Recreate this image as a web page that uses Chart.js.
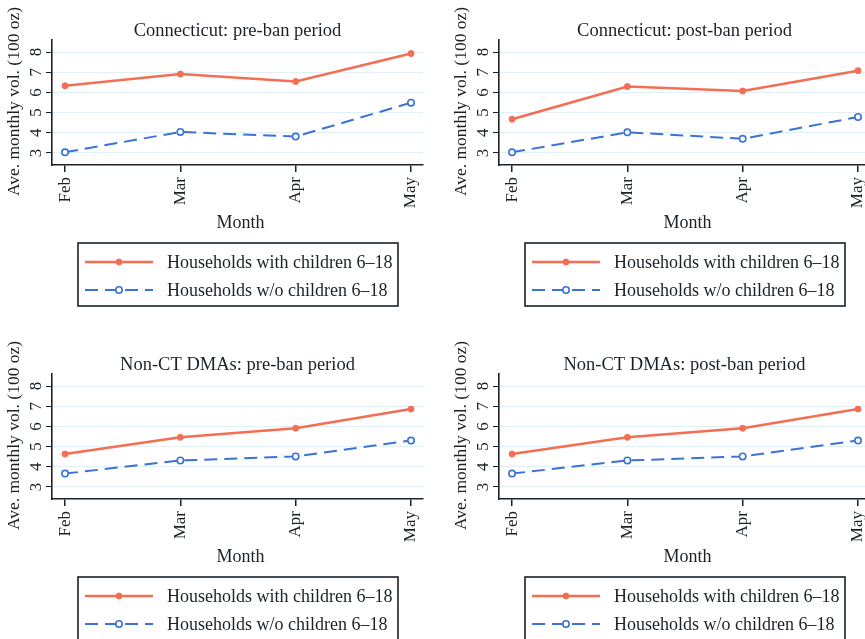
<!DOCTYPE html>
<html>
<head>
<meta charset="utf-8">
<script src="https://cdn.jsdelivr.net/npm/chart.js@4.4.0/dist/chart.umd.min.js"></script>
<style>
  html, body { margin: 0; padding: 0; background: #fff; }
  body { width: 865px; height: 639px; overflow: hidden; position: relative; }
  .panel { position: absolute; width: 447px; height: 334px; }
</style>
</head>
<body>
<div class="panel" style="left:0;top:0"><canvas id="c0" width="447" height="334"></canvas></div>
<div class="panel" style="left:447px;top:0"><canvas id="c1" width="447" height="334"></canvas></div>
<div class="panel" style="left:0;top:334px"><canvas id="c2" width="447" height="334"></canvas></div>
<div class="panel" style="left:447px;top:334px"><canvas id="c3" width="447" height="334"></canvas></div>
<script>
const months = ['Feb', 'Mar', 'Apr', 'May'];
const yTicks = [3, 4, 5, 6, 7, 8];
const seriesNames = ['Households with children 6–18', 'Households w/o children 6–18'];
const panelTitles = [
    'Connecticut: pre-ban period',
    'Connecticut: post-ban period',
    'Non-CT DMAs: pre-ban period',
    'Non-CT DMAs: post-ban period'
];

// average monthly volume, 100 oz
const ctPreWith = [6.33, 6.91, 6.54, 7.93];
const ctPreWithout = [3.03, 4.04, 3.81, 5.49];
const ctPostWith = [4.67, 6.29, 6.07, 7.08];
const ctPostWithout = [3.03, 4.02, 3.70, 4.78];
const nonCtPreWith = [4.63, 5.46, 5.91, 6.86];
const nonCtPreWithout = [3.66, 4.31, 4.51, 5.30];
const nonCtPostWith = [4.63, 5.46, 5.91, 6.86];
const nonCtPostWithout = [3.66, 4.31, 4.51, 5.30];

const panelSeries = [
    [ctPreWith, ctPreWithout],
    [ctPostWith, ctPostWithout],
    [nonCtPreWith, nonCtPreWithout],
    [nonCtPostWith, nonCtPostWithout]
];

const orange = '#f36e52';
const blue = '#3a72d8';
const ink = '#1a2228';
const serif = '"Liberation Serif", "Times New Roman", serif';

// Stata-like text: title, rotated tick labels, axis titles and boxed legend
const stataText = {
    id: 'stataText',
    afterDraw(chart, args, opts) {
        const ctx = chart.ctx;
        const xs = chart.scales.x, ys = chart.scales.y;
        const area = chart.chartArea;
        const midX = (area.left + area.right) / 2;
        ctx.save();
        ctx.fillStyle = ink;
        ctx.textBaseline = 'middle';

        ctx.textAlign = 'center';
        ctx.font = `18.5px ${serif}`;
        ctx.fillText(opts.title, midX, 31);

        ctx.save();
        ctx.translate(14, (area.top + area.bottom) / 2 - 1);
        ctx.rotate(-Math.PI / 2);
        ctx.font = `17.5px ${serif}`;
        ctx.fillText('Ave. monthly vol. (100 oz)', 0, 0);
        ctx.restore();

        ctx.font = `17px ${serif}`;
        yTicks.forEach(v => {
            ctx.save();
            ctx.translate(37, ys.getPixelForValue(v));
            ctx.rotate(-Math.PI / 2);
            ctx.fillText(String(v), 0, 0);
            ctx.restore();
        });

        months.forEach((m, i) => {
            ctx.save();
            ctx.translate(xs.getPixelForValue(i), area.bottom + 12);
            ctx.rotate(-Math.PI / 2);
            ctx.textAlign = 'right';
            ctx.fillText(m, 0, 0);
            ctx.restore();
        });

        ctx.font = `18px ${serif}`;
        ctx.fillText('Month', midX + 3, 223);

        // legend box
        const bx = 78, by = 243, bw = 320, bh = 63;
        ctx.strokeStyle = ink;
        ctx.lineWidth = 1.6;
        ctx.strokeRect(bx, by, bw, bh);
        chart.data.datasets.forEach((ds, i) => {
            const rowY = by + 19 + i * 28;
            ctx.save();
            ctx.strokeStyle = ds.borderColor;
            ctx.lineWidth = ds.borderWidth;
            ctx.setLineDash(ds.borderDash || []);
            ctx.beginPath();
            ctx.moveTo(bx + 7, rowY);
            ctx.lineTo(bx + 75, rowY);
            ctx.stroke();
            ctx.setLineDash([]);
            ctx.beginPath();
            ctx.arc(bx + 41, rowY, ds.pointRadius, 0, Math.PI * 2);
            ctx.fillStyle = ds.pointBackgroundColor;
            ctx.fill();
            ctx.lineWidth = ds.pointBorderWidth;
            ctx.strokeStyle = ds.pointBorderColor;
            ctx.stroke();
            ctx.restore();
            ctx.textAlign = 'left';
            ctx.font = `18px ${serif}`;
            ctx.fillText(ds.label, bx + 89, rowY + 1);
        });
        ctx.restore();
    }
};

panelSeries.forEach((pair, k) => {
    const [withKids, withoutKids] = pair;
    new Chart(document.getElementById('c' + k), {
        type: 'line',
        data: {
            datasets: [{
                label: seriesNames[0],
                data: withKids.map((v, i) => ({ x: i, y: v })),
                borderColor: orange,
                backgroundColor: orange,
                borderWidth: 2.5,
                pointRadius: 3,
                pointBackgroundColor: orange,
                pointBorderColor: orange,
                pointBorderWidth: 1,
                tension: 0
            }, {
                label: seriesNames[1],
                data: withoutKids.map((v, i) => ({ x: i, y: v })),
                borderColor: blue,
                backgroundColor: blue,
                borderWidth: 2,
                borderDash: [13, 7],
                pointRadius: 3.2,
                pointBackgroundColor: '#ffffff',
                pointBorderColor: blue,
                pointBorderWidth: 1.6,
                tension: 0
            }]
        },
        options: {
            responsive: false,
            animation: false,
            devicePixelRatio: 1,
            layout: { padding: { top: 40, right: 24, bottom: 159, left: 0 } },
            plugins: {
                legend: { display: false },
                tooltip: { enabled: false },
                stataText: { title: panelTitles[k] }
            },
            scales: {
                x: {
                    type: 'linear',
                    min: -0.113,
                    max: 3.104,
                    afterBuildTicks: s => { s.ticks = months.map((m, i) => ({ value: i })); },
                    afterFit: s => { s.height = 10; },
                    ticks: { display: false },
                    grid: { drawOnChartArea: false, drawTicks: true, tickLength: 7, tickColor: ink, lineWidth: 1.5 },
                    border: { color: ink, width: 1.6 }
                },
                y: {
                    min: 2.4,
                    max: 8.6,
                    afterBuildTicks: s => { s.ticks = yTicks.map(v => ({ value: v })); },
                    afterFit: s => { s.width = 52; },
                    ticks: { display: false },
                    grid: { color: '#e1eff6', lineWidth: 1, tickColor: ink, tickLength: 6 },
                    border: { color: ink, width: 1.6 }
                }
            }
        },
        plugins: [stataText]
    });
});
</script>
</body>
</html>
